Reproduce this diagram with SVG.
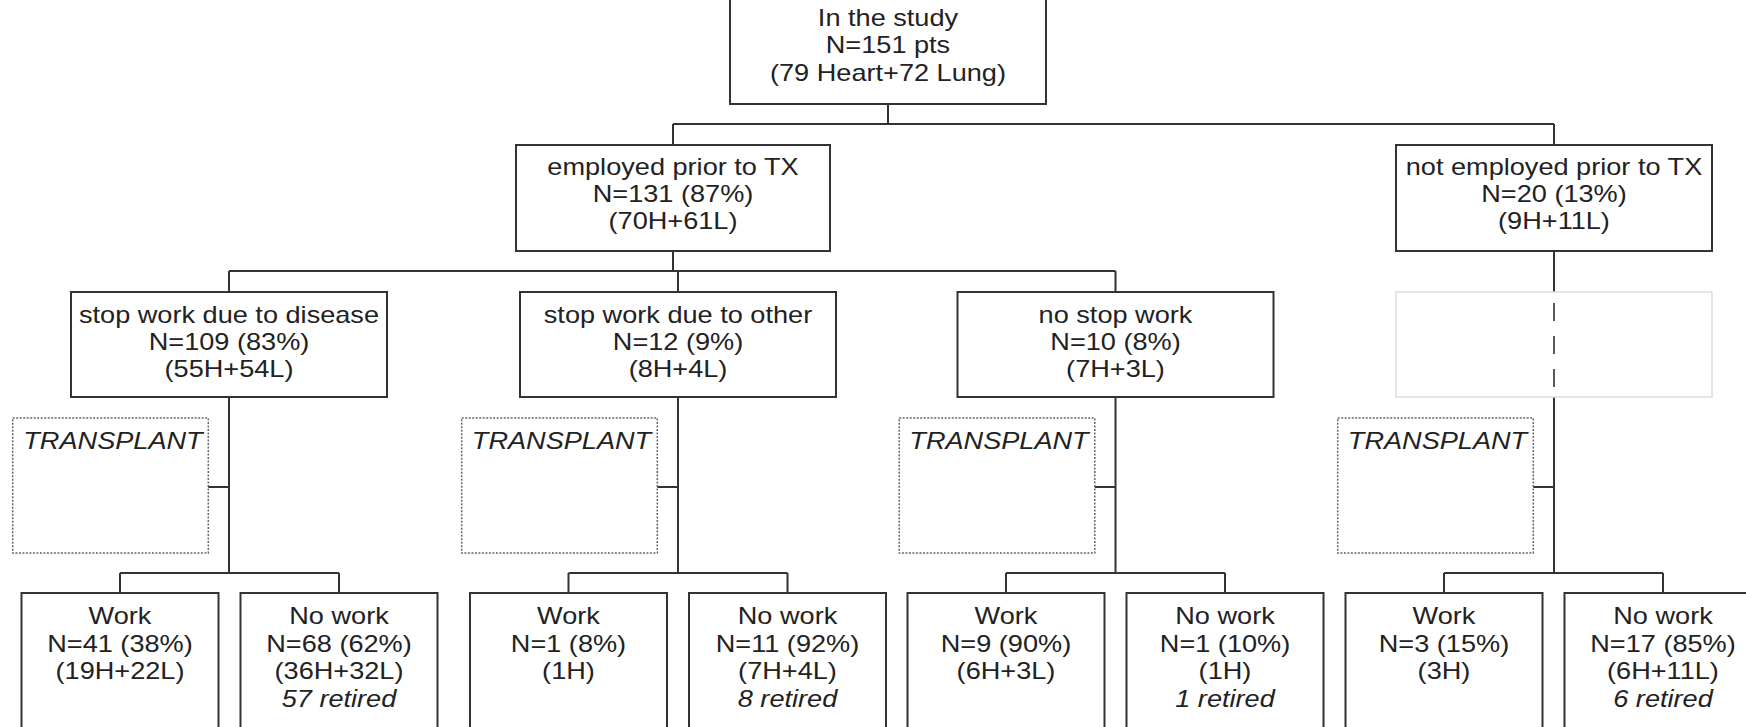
<svg xmlns="http://www.w3.org/2000/svg" width="1746" height="727" viewBox="0 0 1746 727">
<style>
.box{fill:#fff;stroke:#333;stroke-width:2}
.tp{fill:none;stroke:#666;stroke-width:1.5;stroke-dasharray:2 1.5}
.ghost{fill:none;stroke:#ddd;stroke-width:1.5}
.ln{fill:none;stroke:#333;stroke-width:2}
.dash{fill:none;stroke:#333;stroke-width:1.6;stroke-dasharray:18 15}
.t{font-family:"Liberation Sans",Arial,Helvetica,sans-serif;font-size:23px;fill:#222;text-anchor:middle}
.i{font-style:italic}
</style>
<rect width="1746" height="727" fill="#fff"/>

<g id="connectors">
<path class="ln" d="M888 104V124M673 124H1554M673 124V145M1554 124V145"/>
<path class="ln" d="M673 251V271M229 271H1115.5M229 271V292M678 271V292M1115.5 271V292M1554 251V292"/>
<path class="dash" d="M1554 303V390"/>
<path class="ln" d="M229 397V573M678 397V573M1115.5 397V573M1554 397V573"/>
<path class="ln" d="M208.3 487H229M657.3 487H678M1094.8 487H1115.5M1533.3 487H1554"/>
<path class="ln" d="M120 573H339M568.5 573H787.5M1006 573H1225M1444 573H1663"/>
<path class="ln" d="M120 573V593M339 573V593M568.5 573V593M787.5 573V593M1006 573V593M1225 573V593M1444 573V593M1663 573V593"/>
</g>

<g id="n-study">
<rect class="box" x="730" y="-10" width="316" height="114"/>
<g transform="scale(1.18,1)" class="t">
<text x="752.54" y="26">In the study</text>
<text x="752.54" y="53.5">N=151 pts</text>
<text x="752.54" y="81">(79 Heart+72 Lung)</text>
</g>
</g>

<g id="n-employed">
<rect class="box" x="516" y="145" width="314" height="106"/>
<g transform="scale(1.18,1)" class="t">
<text x="570.34" y="175.5">employed prior to TX</text>
<text x="570.34" y="202.5">N=131 (87%)</text>
<text x="570.34" y="229.5">(70H+61L)</text>
</g>
</g>

<g id="n-notemployed">
<rect class="box" x="1396" y="145" width="316" height="106"/>
<g transform="scale(1.18,1)" class="t">
<text x="1316.95" y="175.5">not employed prior to TX</text>
<text x="1316.95" y="202.5">N=20 (13%)</text>
<text x="1316.95" y="229.5">(9H+11L)</text>
</g>
</g>

<g id="n-disease">
<rect class="box" x="71" y="292" width="316" height="105"/>
<g transform="scale(1.18,1)" class="t">
<text x="194.07" y="323">stop work due to disease</text>
<text x="194.07" y="350">N=109 (83%)</text>
<text x="194.07" y="377">(55H+54L)</text>
</g>
</g>

<g id="n-other">
<rect class="box" x="520" y="292" width="316" height="105"/>
<g transform="scale(1.18,1)" class="t">
<text x="574.58" y="323">stop work due to other</text>
<text x="574.58" y="350">N=12 (9%)</text>
<text x="574.58" y="377">(8H+4L)</text>
</g>
</g>

<g id="n-nostop">
<rect class="box" x="957.5" y="292" width="316" height="105"/>
<g transform="scale(1.18,1)" class="t">
<text x="945.34" y="323">no stop work</text>
<text x="945.34" y="350">N=10 (8%)</text>
<text x="945.34" y="377">(7H+3L)</text>
</g>
</g>

<g id="n-ghost">
<rect class="ghost" x="1396" y="292" width="316" height="105"/>
</g>

<g id="n-tx1">
<rect class="tp" x="12.7" y="418" width="195.6" height="135"/>
<g transform="scale(1.18,1)" class="t i"><text x="95.76" y="449">TRANSPLANT</text></g>
</g>
<g id="n-tx2">
<rect class="tp" x="461.7" y="418" width="195.6" height="135"/>
<g transform="scale(1.18,1)" class="t i"><text x="475.85" y="449">TRANSPLANT</text></g>
</g>
<g id="n-tx3">
<rect class="tp" x="899.2" y="418" width="195.6" height="135"/>
<g transform="scale(1.18,1)" class="t i"><text x="846.61" y="449">TRANSPLANT</text></g>
</g>
<g id="n-tx4">
<rect class="tp" x="1337.7" y="418" width="195.6" height="135"/>
<g transform="scale(1.18,1)" class="t i"><text x="1218.22" y="449">TRANSPLANT</text></g>
</g>

<g id="n-work1">
<rect class="box" x="21.5" y="593" width="197" height="160"/>
<g transform="scale(1.18,1)" class="t">
<text x="101.69" y="624.5">Work</text>
<text x="101.69" y="652">N=41 (38%)</text>
<text x="101.69" y="679.5">(19H+22L)</text>
</g>
</g>
<g id="n-nowork1">
<rect class="box" x="240.5" y="593" width="197" height="160"/>
<g transform="scale(1.18,1)" class="t">
<text x="287.29" y="624.5">No work</text>
<text x="287.29" y="652">N=68 (62%)</text>
<text x="287.29" y="679.5">(36H+32L)</text>
<text x="287.29" y="707" class="i">57 retired</text>
</g>
</g>
<g id="n-work2">
<rect class="box" x="470" y="593" width="197" height="160"/>
<g transform="scale(1.18,1)" class="t">
<text x="481.78" y="624.5">Work</text>
<text x="481.78" y="652">N=1 (8%)</text>
<text x="481.78" y="679.5">(1H)</text>
</g>
</g>
<g id="n-nowork2">
<rect class="box" x="689" y="593" width="197" height="160"/>
<g transform="scale(1.18,1)" class="t">
<text x="667.37" y="624.5">No work</text>
<text x="667.37" y="652">N=11 (92%)</text>
<text x="667.37" y="679.5">(7H+4L)</text>
<text x="667.37" y="707" class="i">8 retired</text>
</g>
</g>
<g id="n-work3">
<rect class="box" x="907.5" y="593" width="197" height="160"/>
<g transform="scale(1.18,1)" class="t">
<text x="852.54" y="624.5">Work</text>
<text x="852.54" y="652">N=9 (90%)</text>
<text x="852.54" y="679.5">(6H+3L)</text>
</g>
</g>
<g id="n-nowork3">
<rect class="box" x="1126.5" y="593" width="197" height="160"/>
<g transform="scale(1.18,1)" class="t">
<text x="1038.14" y="624.5">No work</text>
<text x="1038.14" y="652">N=1 (10%)</text>
<text x="1038.14" y="679.5">(1H)</text>
<text x="1038.14" y="707" class="i">1 retired</text>
</g>
</g>
<g id="n-work4">
<rect class="box" x="1345.5" y="593" width="197" height="160"/>
<g transform="scale(1.18,1)" class="t">
<text x="1223.73" y="624.5">Work</text>
<text x="1223.73" y="652">N=3 (15%)</text>
<text x="1223.73" y="679.5">(3H)</text>
</g>
</g>
<g id="n-nowork4">
<rect class="box" x="1564.5" y="593" width="197" height="160"/>
<g transform="scale(1.18,1)" class="t">
<text x="1409.32" y="624.5">No work</text>
<text x="1409.32" y="652">N=17 (85%)</text>
<text x="1409.32" y="679.5">(6H+11L)</text>
<text x="1409.32" y="707" class="i">6 retired</text>
</g>
</g>
</svg>
